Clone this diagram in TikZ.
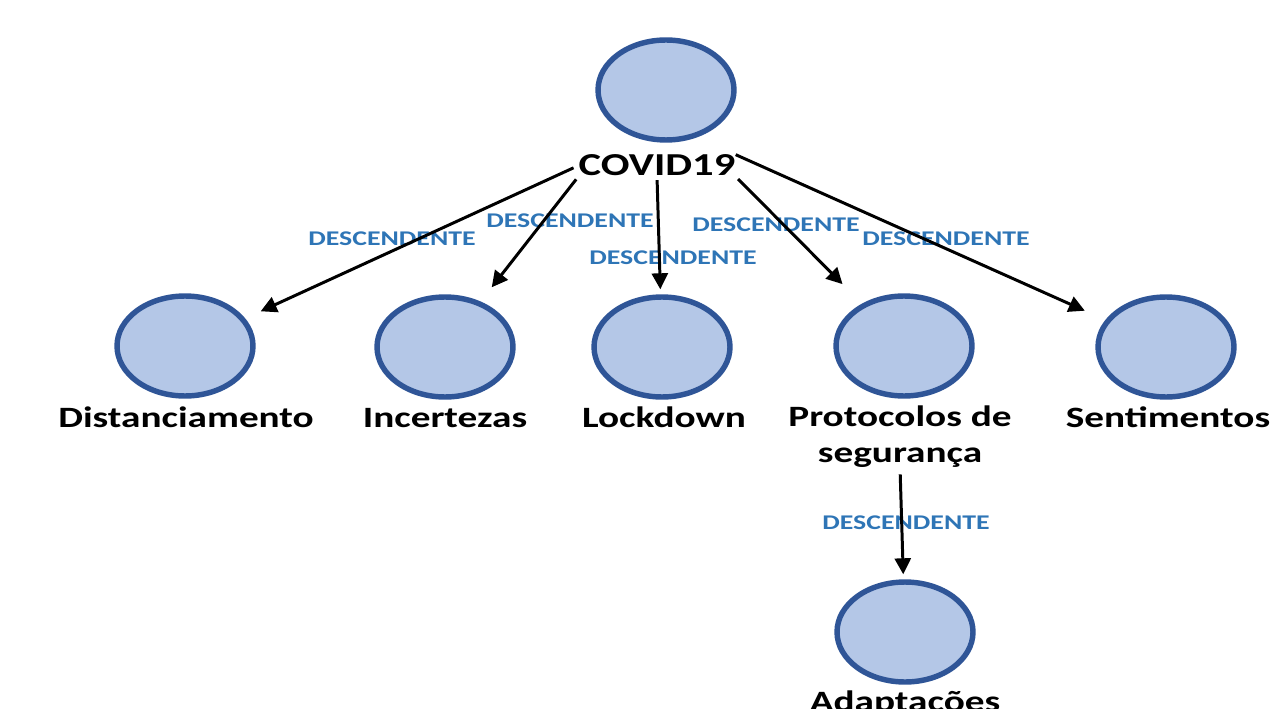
\documentclass[tikz,border=0pt]{standalone}
\usepackage{fontspec}
\setmainfont[FakeStretch=1.33]{Carlito}
\usetikzlibrary{arrows.meta,shapes.geometric}
\definecolor{nodefill}{HTML}{B4C7E7}
\definecolor{nodeline}{HTML}{2F5597}
\definecolor{relblue}{HTML}{2E75B6}

\begin{document}
\begin{tikzpicture}[x=0.02cm,y=0.02cm]
\tikzstyle{every node}+=[inner sep=0pt]
\tikzstyle{concept}=[ellipse, draw=nodeline, fill=nodefill, line width=3.1pt, minimum width=2.72cm, minimum height=2cm]
\tikzstyle{term}=[font=\bfseries\fontsize{16.8}{20}\selectfont, anchor=base, align=center]
\tikzstyle{rel}=[text=relblue, font=\bfseries\fontsize{11.9}{14}\selectfont]
\tikzstyle{link}=[black, line width=1.7pt, -{Triangle[length=0.32cm,width=0.32cm]}]
\clip (0,0) rectangle (1273,-709);
% circles
\node [concept] (top) at (666,-90) {};
\node [concept] (dist) at (185,-346) {};
\node [concept] (inc) at (445,-347) {};
\node [concept] (lock) at (662,-347) {};
\node [concept] (prot) at (904,-346) {};
\node [concept] (sent) at (1166,-347) {};
\node [concept] (adap) at (905,-632) {};
% names
\node [term, font=\bfseries\fontsize{18.2}{20}\selectfont] (covid) at (657,-176) {COVID19};
\node [term] (tdist) at (186,-427) {Distanciamento};
\node [term] (tinc) at (445,-427) {Incertezas};
\node [term] (tlock) at (664,-427) {Lockdown};
\node [term] (tprot) at (900,-462) {Protocolos de\\segurança};
\node [term] (tsent) at (1168,-427) {Sentimentos};
\node [term] (tadap) at (905,-711) {Adaptações};
% relation labels
\node [rel] (r1) at (392,-239) {DESCENDENTE};
\node [rel] (r2) at (570,-221) {DESCENDENTE};
\node [rel] (r3) at (673,-258) {DESCENDENTE};
\node [rel] (r4) at (776,-225) {DESCENDENTE};
\node [rel] (r5) at (946,-239) {DESCENDENTE};
\node [rel] (r6) at (906,-523) {DESCENDENTE};
% arrows
\draw [link, shorten <=3pt, shorten >=0.34cm] (covid.west) -- (dist);
\draw [link, shorten <=2pt, shorten >=0.36cm] (covid.south west) -- (inc);
\draw [link, shorten <=2pt, shorten >=0.1cm] (covid.south) -- (lock);
\draw [link, shorten <=2pt, shorten >=0.55cm] (covid.south east) -- (prot);
\draw [link, shorten <=0pt, shorten >=0.45cm] (covid.north east) -- (sent);
\draw [link, shorten <=4pt, shorten >=0.1cm] (tprot.south) -- (adap);
\end{tikzpicture}
\end{document}
